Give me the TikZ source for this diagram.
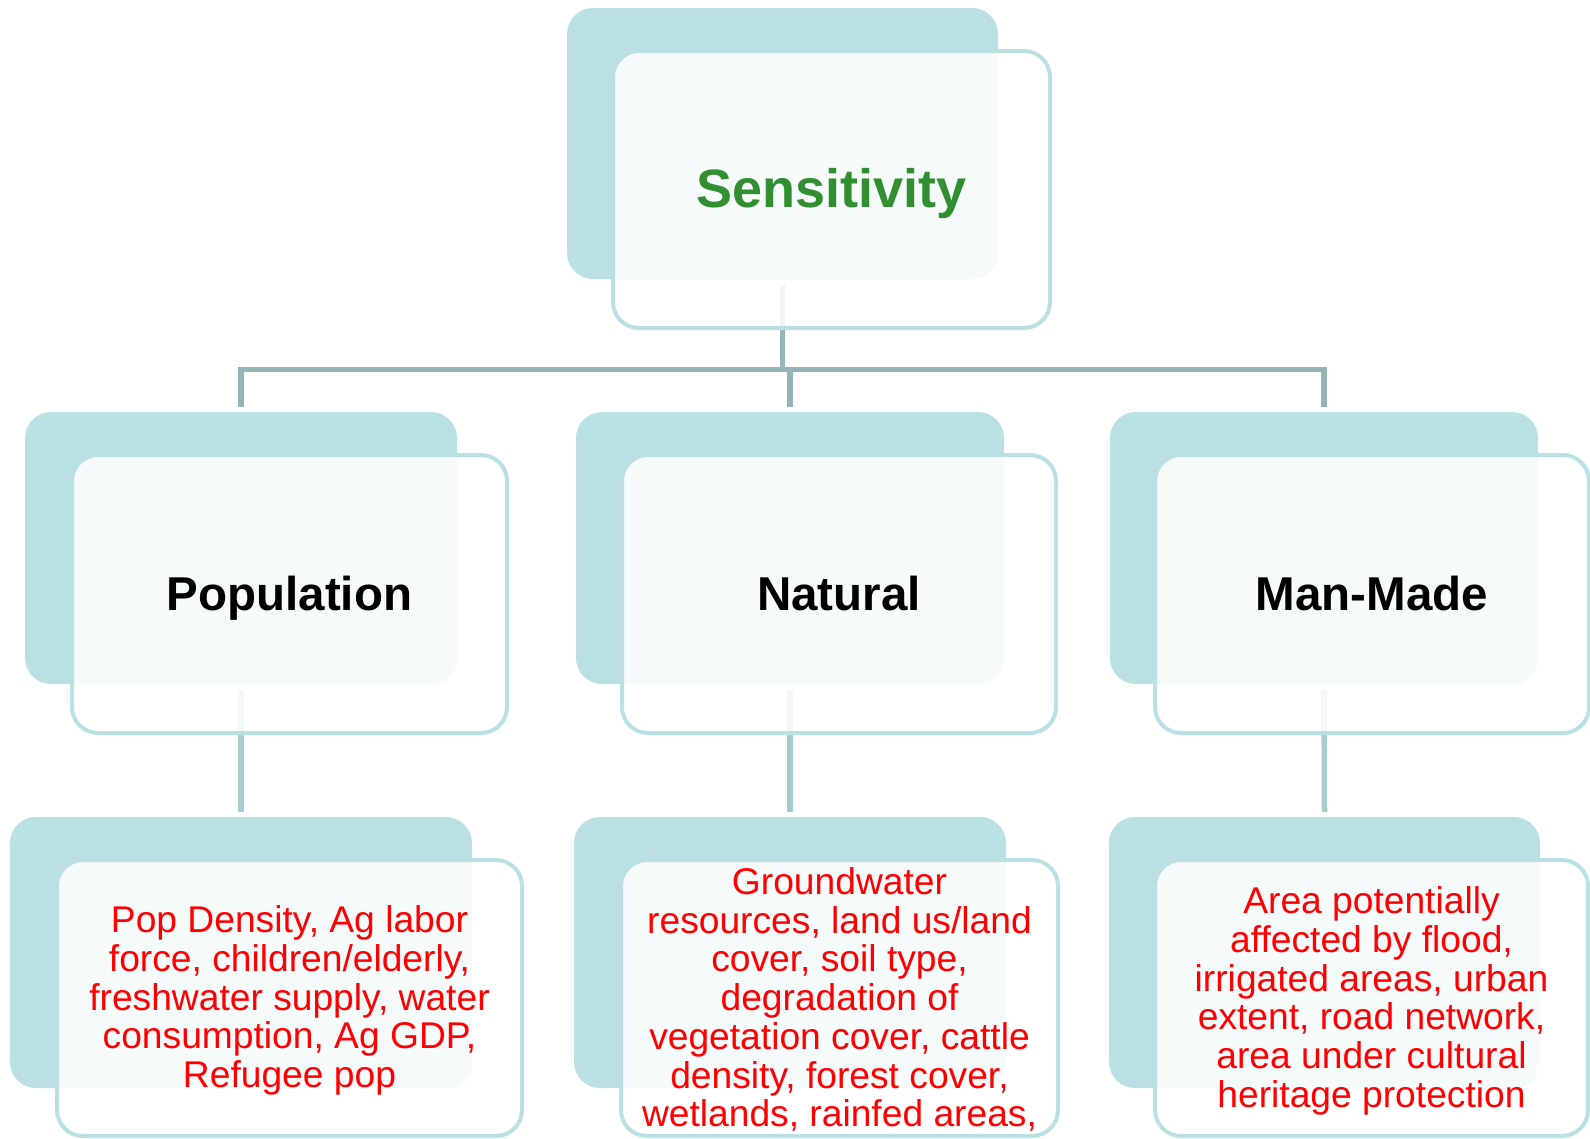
\documentclass[tikz,border=0pt]{standalone}
\usepackage{fontspec}
\setmainfont{Liberation Sans}
\definecolor{tealback}{RGB}{187,224,227}
\definecolor{linkdark}{RGB}{148,180,183}
\definecolor{linklight}{RGB}{168,205,209}
\definecolor{headgreen}{RGB}{49,143,49}
\begin{document}
\begin{tikzpicture}[x=1pt,y=-1pt,
  backbox/.style={rectangle, rounded corners=26pt, fill=tealback, draw=none,
    inner sep=0pt, outer sep=0pt},
  frontbox/.style={rectangle, rounded corners=26pt, draw=tealback, line width=4pt,
    fill=white, fill opacity=0.86, text opacity=1, inner sep=0pt, align=center},
  title/.style={font=\fontsize{54}{60}\selectfont\bfseries, text=headgreen,
    text height=36pt, text depth=0pt},
  category/.style={font=\fontsize{47.5}{52}\selectfont\bfseries, text=black,
    text height=32pt, text depth=0pt},
  detail/.style={font=\fontsize{37.2}{38.7}\selectfont, text=red, align=center},
  link/.style={draw=linkdark, line width=5.5pt},
  sublink/.style={draw=linklight, line width=5.5pt}]

\useasboundingbox[fill=white] (0,0) rectangle (1590,1138);

% back plates
\node[backbox, minimum width=431pt, minimum height=271pt] (topB) at (782.5,143.5) {};
\node[backbox, minimum width=432pt, minimum height=272pt] (popB) at (241,548) {};
\node[backbox, minimum width=428pt, minimum height=272pt] (natB) at (790,548) {};
\node[backbox, minimum width=428pt, minimum height=272pt] (manB) at (1324,548) {};
\node[backbox, minimum width=462pt, minimum height=271pt] (popDB) at (241,952.5) {};
\node[backbox, minimum width=432pt, minimum height=271pt] (natDB) at (790,952.5) {};
\node[backbox, minimum width=431pt, minimum height=271pt] (manDB) at (1324.5,952.5) {};

% connectors
\coordinate (bus) at (0,369.5);
\draw[link] ([yshift=-6pt]topB.south) -- (topB.south |- bus);
\draw[link] ([yshift=5pt]popB.north) -- (popB.north |- bus)
  -- (manB.north |- bus) -- ([yshift=5pt]manB.north);
\draw[link] ([yshift=5pt]natB.north) -- (natB.north |- bus);
\draw[sublink] ([yshift=-6pt]popB.south) -- ([yshift=5pt]popDB.north);
\draw[sublink] ([yshift=-6pt]natB.south) -- ([yshift=5pt]natDB.north);
\draw[sublink] ([yshift=-6pt]manB.south) -- ([yshift=5pt]manDB.north);

% front cards
\node[frontbox, title, minimum width=437pt, minimum height=277pt] (top) at (831.5,189.5) {Sensitivity};
\node[frontbox, category, minimum width=435pt, minimum height=278pt] (pop) at (289.5,594) {Population};
\node[frontbox, category, minimum width=434pt, minimum height=278pt] (nat) at (839,594) {Natural};
\node[frontbox, category, minimum width=434pt, minimum height=278pt] (man) at (1372,594) {Man-Made};
\node[frontbox, minimum width=465pt, minimum height=276pt] (popD) at (289.5,998) {};
\node[frontbox, minimum width=437pt, minimum height=276pt] (natD) at (839.5,998) {};
\node[frontbox, minimum width=433pt, minimum height=276pt] (manD) at (1371.5,998) {};

% detail lists
\node[detail] (popText) at ([yshift=-2.5pt]popD.center)
  {Pop Density, Ag labor\\force, children/elderly,\\freshwater supply, water\\consumption, Ag GDP,\\Refugee pop};
\node[detail] (natText) at ([yshift=-1.5pt]natD.center)
  {Groundwater\\resources, land us/land\\cover, soil type,\\degradation of\\vegetation cover, cattle\\density, forest cover,\\wetlands, rainfed areas,};
\node[detail] (manText) at ([yshift=-3pt]manD.center)
  {Area potentially\\affected by flood,\\irrigated areas, urban\\extent, road network,\\area under cultural\\heritage protection};
\end{tikzpicture}
\end{document}
